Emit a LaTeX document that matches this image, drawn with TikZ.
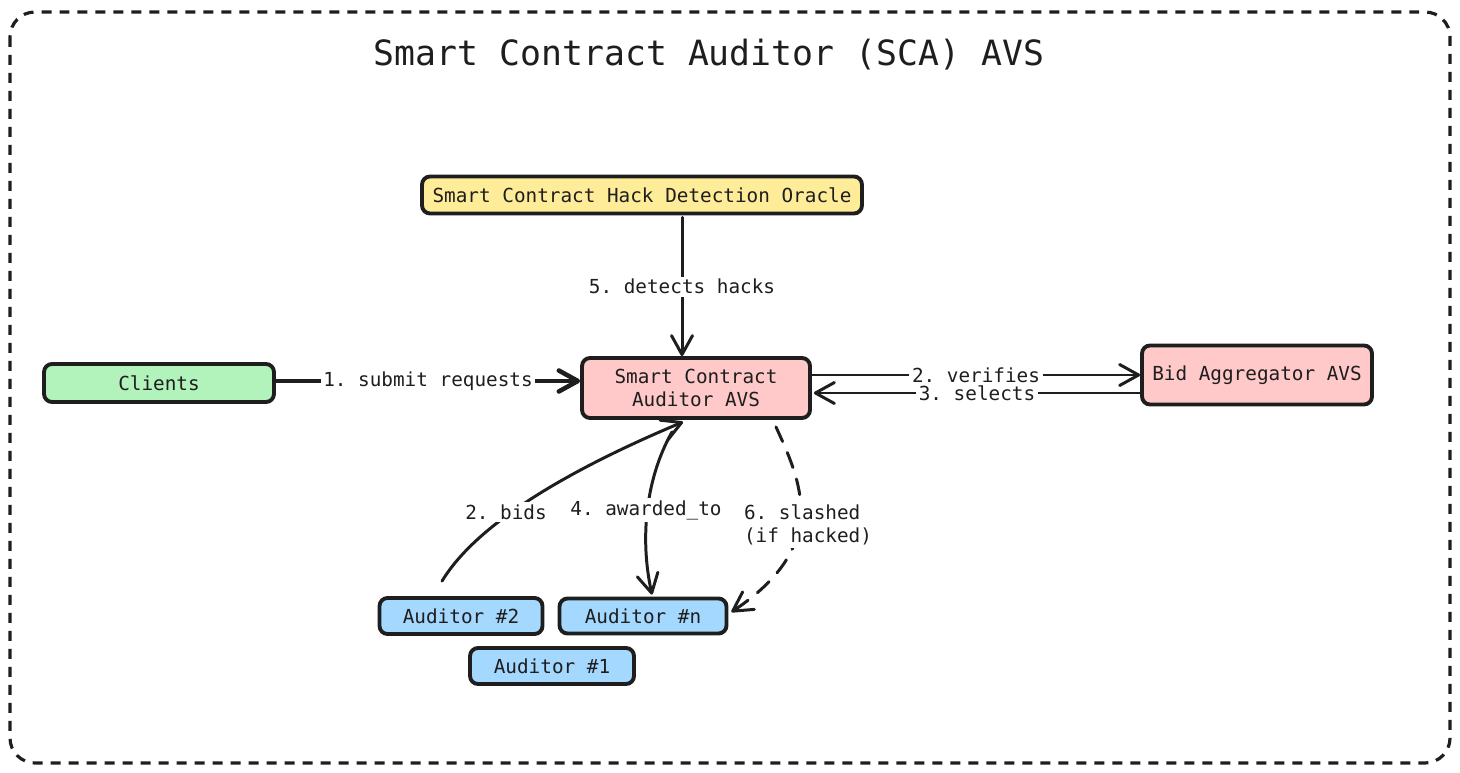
\documentclass[tikz,border=0pt]{standalone}
\usepackage{fontspec}
\setmonofont{DejaVu Sans Mono}
\usetikzlibrary{calc,arrows.meta}
\definecolor{ink}{HTML}{1E1E1E}
\definecolor{oracleFill}{HTML}{FFEC99}
\definecolor{clientFill}{HTML}{B2F2BB}
\definecolor{avsFill}{HTML}{FFC9C9}
\definecolor{auditorFill}{HTML}{A5D8FF}
\begin{document}
\begin{tikzpicture}[x=0.02cm,y=-0.02cm,>={Straight Barb[length=0.38cm,width=0.42cm,round]},
        box/.style={draw=ink,line width=2.2pt,rounded corners=0.16cm,inner sep=0pt,text=ink,
            align=center,font=\ttfamily\fontsize{11}{13}\selectfont},
        link/.style={draw=ink,line width=1.7pt,line cap=round},
        lbl/.style={fill=white,inner sep=1.5pt,text=ink,font=\ttfamily\fontsize{11}{13.5}\selectfont}]
                \useasboundingbox (0,0) rectangle (1460,773);
                \draw[ink,line width=1.8pt,dash pattern=on 0.2cm off 0.16cm,rounded corners=0.5cm] (10,12) rectangle (1450,763);
                \node[text=ink,font=\ttfamily\fontsize{19.8}{24}\selectfont] (title) at (709,55) {Smart Contract Auditor (SCA) AVS};
                \node[box,fill=oracleFill,minimum width=8.8cm,minimum height=0.74cm] (oracle) at (642,195) {Smart Contract Hack Detection Oracle};
                \node[box,fill=clientFill,minimum width=4.6cm,minimum height=0.76cm] (clients) at (159,383) {Clients};
                \node[box,fill=avsFill,minimum width=4.56cm,minimum height=1.2cm] (sca) at (696,388) {Smart Contract\\Auditor AVS};
                \node[box,fill=avsFill,minimum width=4.6cm,minimum height=1.18cm] (bidAgg) at (1257,375) {Bid Aggregator AVS};
                \node[box,fill=auditorFill,minimum width=3.26cm,minimum height=0.72cm] (auditorTwo) at (461,616) {Auditor \#2};
                \node[box,fill=auditorFill,minimum width=3.34cm,minimum height=0.7cm] (auditorN) at (643,616) {Auditor \#n};
                \node[box,fill=auditorFill,minimum width=3.28cm,minimum height=0.72cm] (auditorOne) at (552,666) {Auditor \#1};
                \coordinate (oracleOut) at ($(oracle.south)+(40,2)$);
                \coordinate (bidsStart) at ($(auditorTwo.north)+(-19,-15)$);
                \coordinate (bidsEnd) at ($(sca.south)+(-13,2)$);
                \coordinate (awardStart) at ($(sca.south)+(-24,12)$);
                \coordinate (slashStart) at ($(sca.south)+(80,7)$);
                \draw[link,->] (oracleOut) -- node[lbl] {5. detects hacks} (oracleOut |- sca.north);
                \draw[link,->,line width=2.6pt] (clients.east |- 0,381) -- node[lbl] {1. submit requests} (sca.west |- 0,381);
                \draw[link,->] (bidAgg.west -| sca.east) -- node[lbl] {2. verifies} (bidAgg.west);
                \draw[link,->] ($(bidAgg.west)+(0,18)$) -- node[lbl] {3. selects} ($(bidAgg.west -| sca.east)+(2,18)$);
                \draw[link,->] (bidsStart) .. controls (470,535) and (540,482) .. (bidsEnd);
                \node[lbl] (bidsLbl) at (506,512) {2. bids};
                \draw[link,->] (awardStart) .. controls (645,480) and (640,540) .. ($(auditorN.north)+(9,-2)$);
                \node[lbl] (awardLbl) at (646,510) {4. awarded\_to};
                \draw[link,->,dash pattern=on 0.32cm off 0.24cm] (slashStart) .. controls (800,480) and (832,545) .. ($(auditorN.east)+(3,-4)$);
                \node[lbl,align=left] (slashLbl) at (808,525) {6. slashed\\(if hacked)};
            \end{tikzpicture}
\end{document}
